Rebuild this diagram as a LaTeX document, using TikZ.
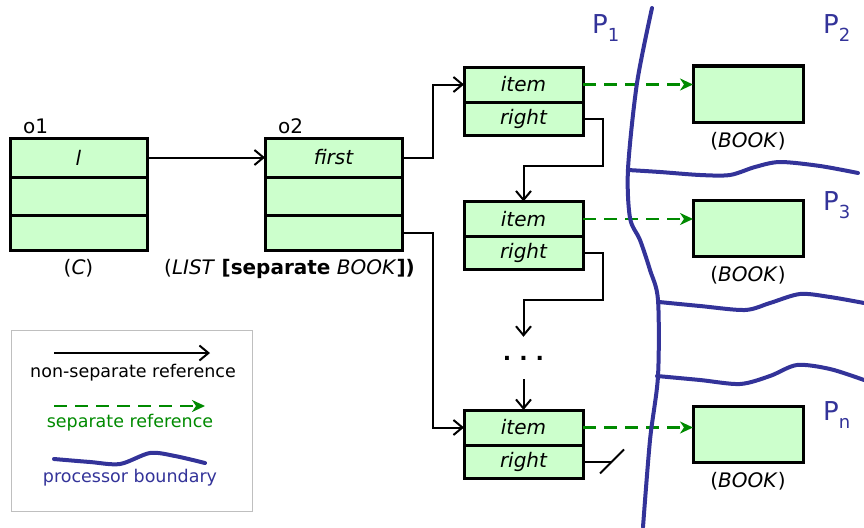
\documentclass[tikz,border=0pt]{standalone}
\usepackage{fontspec}
\setmainfont{DejaVu Sans}
\usetikzlibrary{positioning,arrows.meta,calc}
\definecolor{boxgreen}{HTML}{CCFFCC}
\definecolor{refgreen}{HTML}{008A00}
\definecolor{procblue}{HTML}{333399}
\begin{document}
\begin{tikzpicture}[x=1pt,y=-1pt,
every node/.style={font=\fontsize{20}{23}\selectfont},
field/.style={draw,line width=3pt,fill=boxgreen,outer sep=0pt,inner sep=0pt,font=\fontsize{20}{23}\selectfont\itshape},
objfield/.style={field,minimum width=137pt},
cellfield/.style={field,minimum width=119pt},
bookbox/.style={field,minimum width=110pt,minimum height=56pt},
ref/.style={line width=2pt,-{Straight Barb[length=9pt,width=15pt]}},
sepref/.style={refgreen,line width=2.5pt,dash pattern=on 13pt off 8pt,-{Stealth[length=13pt,width=12pt,inset=4pt]}},
bound/.style={procblue,line width=4pt,line cap=round},
plabel/.style={procblue,font=\fontsize{26}{28}\selectfont,anchor=base west,inner sep=0pt},
keytext/.style={font=\fontsize{17.5}{20}\selectfont}
]
\useasboundingbox (0,0) rectangle (864,527);

\node[objfield,minimum height=39pt] (o1l) at (78.5,157.5) {l};
\node[objfield,minimum height=38pt,below=0pt of o1l] (o1m) {};
\node[objfield,minimum height=35pt,below=0pt of o1m] (o1n) {};
\node[anchor=base west,inner sep=0pt] (o1t) at ($(o1l.north west)+(13,-5)$) {o1};
\node[inner sep=0pt,below=9pt of o1n] (o1c) {(\textit{C})};

\node[objfield,minimum height=39pt] (o2f) at (333.5,157.5) {first};
\node[objfield,minimum height=38pt,below=0pt of o2f] (o2m) {};
\node[objfield,minimum height=35pt,below=0pt of o2m] (o2n) {};
\node[anchor=base west,inner sep=0pt] (o2t) at ($(o2f.north west)+(13,-5)$) {o2};
\node[inner sep=0pt,below=9pt of o2n,xshift=-44pt] (o2c) {(\textit{LIST} \textbf{[separate} \textit{BOOK}\textbf{])}};

\node[cellfield,minimum height=35pt] (i1) at (523.5,84.5) {item};
\node[cellfield,minimum height=33pt,below=0pt of i1] (i1r) {right};
\node[cellfield,minimum height=35pt] (i2) at (523.5,219) {item};
\node[cellfield,minimum height=33pt,below=0pt of i2] (i2r) {right};
\node[cellfield,minimum height=35pt] (i3) at (523.5,427.5) {item};
\node[cellfield,minimum height=33pt,below=0pt of i3] (i3r) {right};
\node[inner sep=0pt,minimum height=42pt,font=\fontsize{22}{24}\selectfont\bfseries] (dots) at (523.5,358) {.\hspace{8pt}.\hspace{8pt}.};

\node[bookbox] (b1) at (748,94) {};
\node[bookbox] (b2) at (748,228.5) {};
\node[bookbox] (b3) at (748,434) {};
\node[inner sep=0pt,below=10pt of b1] (b1t) {(\textit{BOOK})};
\node[inner sep=0pt,below=10pt of b2] (b2t) {(\textit{BOOK})};
\node[inner sep=0pt,below=10pt of b3] (b3t) {(\textit{BOOK})};

\draw[ref] (o1l.east) -- (o2f.west);
\draw[ref] (o2f.east) -- ++(31,0) |- (i1.west);
\draw[ref] (o2n.east) -- ++(31,0) |- (i3.west);
\draw[ref] (i1r.east) -- ++(20,0) |- ($(i2.north)+(0,-36)$) -- (i2.north);
\draw[ref] (i2r.east) -- ++(20,0) |- ($(dots.north)+(0,-37)$) -- (dots.north);
\draw[ref] (dots.south) -- (i3.north);
\draw[line width=2pt] (i3r.east) -- ++(29,0) coordinate (void);
\draw[line width=2pt] ($(void)+(-12,12)$) -- ($(void)+(12,-12)$);

\draw[sepref] (i1.east) -- (i1.east -| b1.west);
\draw[sepref] (i2.east) -- (i2.east -| b2.west);
\draw[sepref] (i3.east) -- (i3.east -| b3.west);

\draw[bound] plot[smooth] coordinates {(652,8) (637,83) (628,169) (630,218) (640,240) (650,270) (658,300) (658,376) (650,440) (643,527)};
\draw[bound] plot[smooth] coordinates {(628,170) (660,172) (700,175) (730,175) (755,167) (780,162) (820,166) (858,173)};
\draw[bound] plot[smooth] coordinates {(659,302) (700,306) (745,310) (770,303) (800,294) (830,297) (864,303)};
\draw[bound] plot[smooth] coordinates {(657,376) (700,380) (740,384) (770,376) (797,365) (830,369) (864,380)};

\node[plabel] (p1) at (592,34) {P\raisebox{-8pt}{\fontsize{18}{20}\selectfont 1}};
\node[plabel] (p2) at (823,34) {P\raisebox{-8pt}{\fontsize{18}{20}\selectfont 2}};
\node[plabel] (p3) at (823,210) {P\raisebox{-8pt}{\fontsize{18}{20}\selectfont 3}};
\node[plabel] (pn) at (823,420) {P\raisebox{-8pt}{\fontsize{18}{20}\selectfont n}};

\draw[gray!50,line width=1pt] (11,330) rectangle (252,511);
\coordinate (ka) at (54,353);
\coordinate (kb) at (210,353);
\draw[ref] (ka) -- (kb);
\node[keytext] (k1) at (133,373) {non-separate reference};
\coordinate (kc) at (54,406);
\coordinate (kd) at (205,406);
\draw[sepref] (kc) -- (kd);
\node[keytext,refgreen] (k2) at (130,423) {separate reference};
\draw[bound] plot[smooth] coordinates {(54,459) (90,462) (120,464) (150,453) (175,456) (205,463)};
\node[keytext,procblue] (k3) at (130,478) {processor boundary};
\end{tikzpicture}
\end{document}
